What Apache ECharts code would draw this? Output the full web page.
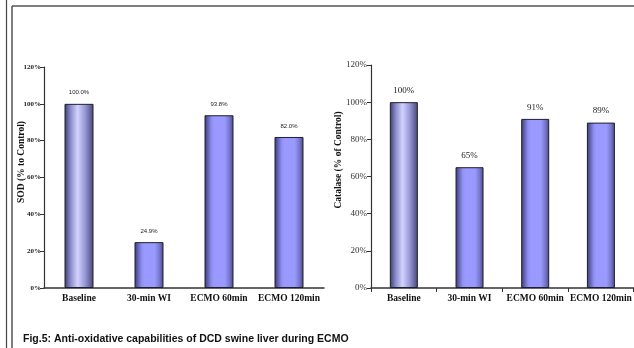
<!DOCTYPE html>
<html>
<head>
<meta charset="utf-8">
<script src="https://cdn.jsdelivr.net/npm/echarts@6/dist/echarts.min.js"></script>
<style>
html,body{margin:0;padding:0;background:#fff;}
#chart{width:634px;height:348px;}
</style>
</head>
<body>
<div id="chart"></div>
<script>
const categories = ['Baseline', '30-min WI', 'ECMO 60min', 'ECMO 120min'];
const sodValues = [100.0, 24.9, 93.8, 82.0];
const catalaseValues = [100, 65, 91, 89];
const sodTitle = 'SOD (% to Control)';
const catalaseTitle = 'Catalase (% of Control)';
const caption = 'Fig.5: Anti-oxidative capabilities of DCD swine liver during ECMO';

const SERIF = '"Liberation Serif", "Times New Roman", serif';
const SANS = '"Liberation Sans", Arial, sans-serif';

function baselineGrad() {
  return new echarts.graphic.LinearGradient(0, 0, 1, 0, [
    {offset: 0, color: '#3c3c6e'},
    {offset: 0.2, color: '#8888c8'},
    {offset: 0.45, color: '#d2d2ff'},
    {offset: 0.7, color: '#9a9ad8'},
    {offset: 1, color: '#46467a'}
  ]);
}
function normalGrad() {
  return new echarts.graphic.LinearGradient(0, 0, 1, 0, [
    {offset: 0, color: '#3a3a78'},
    {offset: 0.25, color: '#9090f4'},
    {offset: 0.35, color: '#9999ff'},
    {offset: 0.7, color: '#9999ff'},
    {offset: 0.85, color: '#7a7ad0'},
    {offset: 1, color: '#4a4a88'}
  ]);
}
function makeData(vals) {
  return vals.map((v, i) => ({
    value: v,
    itemStyle: {color: i === 0 ? baselineGrad() : normalGrad(), borderColor: '#1e1e2e', borderWidth: 1}
  }));
}

const chart = echarts.init(document.getElementById('chart'));
chart.setOption({
  animation: false,
  backgroundColor: '#fff',
  grid: [
    {left: 44, width: 280, top: 67, height: 221},
    {left: 371, width: 270, top: 65, height: 223}
  ],
  xAxis: [
    {
      type: 'category', gridIndex: 0, data: categories,
      axisLine: {lineStyle: {color: '#333', width: 1.5}},
      axisTick: {show: false},
      axisLabel: {fontFamily: SERIF, fontWeight: 'bold', fontSize: 9.5, color: '#111', margin: 6, interval: 0}
    },
    {
      type: 'category', gridIndex: 1, data: categories,
      axisLine: {lineStyle: {color: '#333', width: 1.5}},
      axisTick: {show: true, length: 4, inside: false, lineStyle: {color: '#333'}},
      axisLabel: {fontFamily: SERIF, fontWeight: 'bold', fontSize: 9.5, color: '#111', margin: 6, interval: 0}
    }
  ],
  yAxis: [
    {
      type: 'value', gridIndex: 0, min: 0, max: 120, interval: 20,
      axisLine: {show: true, lineStyle: {color: '#333', width: 1.2}},
      axisTick: {show: true, length: 4, lineStyle: {color: '#333'}},
      splitLine: {show: false},
      axisLabel: {formatter: '{value}%', fontFamily: SERIF, fontWeight: 'bold', fontSize: 7, color: '#222', margin: 3}
    },
    {
      type: 'value', gridIndex: 1, min: 0, max: 120, interval: 20,
      axisLine: {show: true, lineStyle: {color: '#333', width: 1.2}},
      axisTick: {show: true, length: 4, lineStyle: {color: '#333'}},
      splitLine: {show: false},
      axisLabel: {formatter: '{value}%', fontFamily: SERIF, fontSize: 9, color: '#333', margin: 4}
    }
  ],
  series: [
    {
      type: 'bar', xAxisIndex: 0, yAxisIndex: 0, barWidth: 29,
      data: makeData(sodValues),
      label: {show: true, position: 'top', distance: 8, fontFamily: SANS, fontSize: 6, color: '#222',
        formatter: p => p.value.toFixed(1) + '%'}
    },
    {
      type: 'bar', xAxisIndex: 1, yAxisIndex: 1, barWidth: 28,
      data: makeData(catalaseValues),
      label: {show: true, position: 'top', distance: 7, fontFamily: SERIF, fontSize: 9, color: '#222',
        formatter: p => Math.round(p.value) + '%'}
    }
  ],
  graphic: [
    {type: 'line', shape: {x1: 6.5, y1: 0, x2: 6.5, y2: 348}, style: {stroke: '#444', lineWidth: 1.2}, silent: true},
    {type: 'line', shape: {x1: 12, y1: 6, x2: 12, y2: 348}, style: {stroke: '#555', lineWidth: 1.5}, silent: true},
    {type: 'line', shape: {x1: 12, y1: 6, x2: 634, y2: 6}, style: {stroke: '#555', lineWidth: 1.5}, silent: true},
    {type: 'text', x: 22, y: 162, rotation: Math.PI / 2,
      style: {text: sodTitle, font: 'bold 9.5px ' + SERIF, fill: '#111', align: 'center', verticalAlign: 'middle'}},
    {type: 'text', x: 339, y: 160, rotation: Math.PI / 2,
      style: {text: catalaseTitle, font: 'bold 9.5px ' + SERIF, fill: '#111', align: 'center', verticalAlign: 'middle'}},
    {type: 'text', x: 23, y: 339,
      style: {text: caption, font: 'bold 10.5px ' + SANS, fill: '#111', align: 'left', verticalAlign: 'middle'}}
  ]
});
</script>
</body>
</html>
